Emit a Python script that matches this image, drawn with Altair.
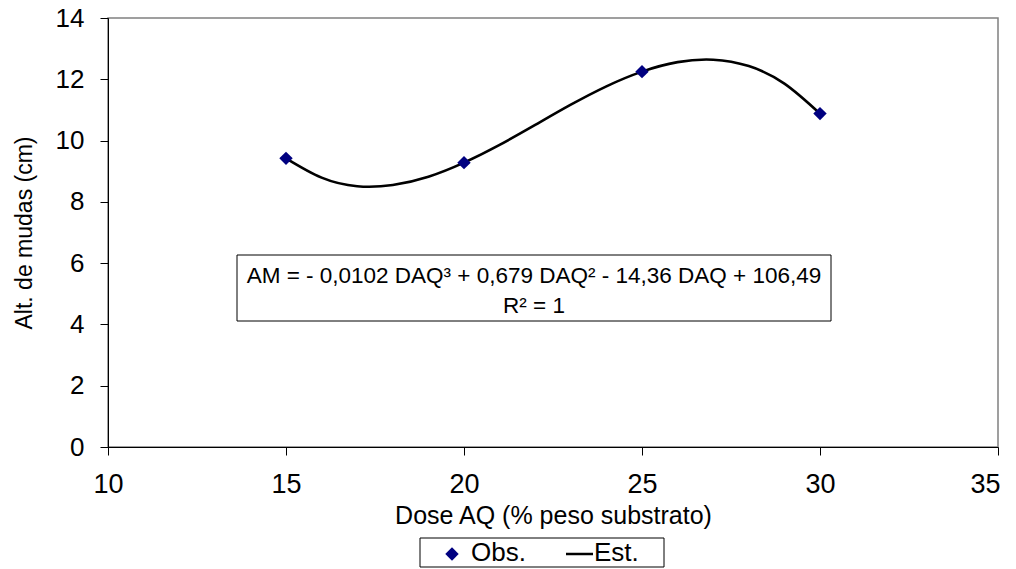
import altair as alt
import pandas as pd

# Observed values
obs_dose = [15, 20, 25, 30]
obs_height = [9.42, 9.28, 12.25, 10.88]

# Estimated curve
est_dose = [15, 16, 17, 18, 19, 20, 21, 22, 23, 24, 25, 26, 27, 28, 29, 30]
est_height = [9.42, 8.79, 8.51, 8.55, 8.82, 9.28, 9.86, 10.51, 11.17, 11.77,
              12.25, 12.56, 12.64, 12.43, 11.86, 10.88]

x_ticks = [10, 15, 20, 25, 30, 35]
y_ticks = [0, 2, 4, 6, 8, 10, 12, 14]

eq_line1 = "AM = - 0,0102 DAQ³ + 0,679 DAQ² - 14,36 DAQ + 106,49"
eq_line2 = "R² = 1"

FONT = "Liberation Sans"

obs_df = pd.DataFrame({"dose": obs_dose, "alt": obs_height})
est_df = pd.DataFrame({"dose": est_dose, "alt": est_height})
one = pd.DataFrame({"a": [0]})

xscale = alt.Scale(domain=[10, 35], nice=False, zero=False)
yscale = alt.Scale(domain=[0, 14], nice=False)

xaxis = alt.Axis(values=x_ticks, title="Dose AQ (% peso substrato)", grid=False,
                 labelFontSize=27, titleFontSize=25, labelPadding=16, titlePadding=6,
                 tickSize=8, domainColor="black", tickColor="black",
                 labelColor="black", titleColor="black", titleFontWeight="normal",
                 labelFont=FONT, titleFont=FONT, labelFlush=False,
                 labelAlign=alt.condition("datum.value == 35", alt.value("right"), alt.value("center")),
                 labelOffset=alt.condition("datum.value == 35", alt.value(2), alt.value(0)))
yaxis = alt.Axis(values=y_ticks, title="Alt. de mudas (cm)", grid=False,
                 labelFontSize=26, titleFontSize=23, labelPadding=16, titlePadding=19,
                 tickSize=8, domainColor="black", tickColor="black",
                 labelColor="black", titleColor="black", titleFontWeight="normal",
                 labelFont=FONT, titleFont=FONT)

curve = alt.Chart(est_df).mark_line(interpolate="natural", color="black", strokeWidth=2.6).encode(
    x=alt.X("dose:Q", scale=xscale, axis=xaxis),
    y=alt.Y("alt:Q", scale=yscale, axis=yaxis),
)

points = alt.Chart(obs_df).mark_point(shape="diamond", filled=True, color="#000080",
                                      size=180, opacity=1).encode(
    x=alt.X("dose:Q", scale=xscale),
    y=alt.Y("alt:Q", scale=yscale),
)

eq_box = alt.Chart(one).mark_rect(fill="white", stroke="black", strokeWidth=1).encode(
    x=alt.value(129), x2=alt.value(723), y=alt.value(237), y2=alt.value(303)
)
eq_t1 = alt.Chart(one).mark_text(text=eq_line1, font=FONT, fontSize=22.5, align="center",
                                 baseline="middle", color="black").encode(
    x=alt.value(426), y=alt.value(258)
)
eq_t2 = alt.Chart(one).mark_text(text=eq_line2, font=FONT, fontSize=22.5, align="center",
                                 baseline="middle", color="black").encode(
    x=alt.value(426), y=alt.value(288)
)

leg_box = alt.Chart(one).mark_rect(fill="white", stroke="black", strokeWidth=1).encode(
    x=alt.value(312), x2=alt.value(556), y=alt.value(520), y2=alt.value(549)
)
leg_pt = alt.Chart(one).mark_point(shape="diamond", filled=True, color="#000080",
                                   size=180, opacity=1).encode(
    x=alt.value(344), y=alt.value(536)
)
leg_t1 = alt.Chart(one).mark_text(text="Obs.", font=FONT, fontSize=26, align="left",
                                  baseline="middle", color="black").encode(
    x=alt.value(363), y=alt.value(535)
)
leg_line = alt.Chart(one).mark_rule(color="black", strokeWidth=2.5).encode(
    x=alt.value(458), x2=alt.value(485), y=alt.value(536)
)
leg_t2 = alt.Chart(one).mark_text(text="Est.", font=FONT, fontSize=26, align="left",
                                  baseline="middle", color="black").encode(
    x=alt.value(486), y=alt.value(535)
)

chart = alt.layer(curve, points, eq_box, eq_t1, eq_t2,
                  leg_box, leg_pt, leg_t1, leg_line, leg_t2).properties(
    width=890, height=429,
    autosize=alt.AutoSizeParams(type="none"),
    padding={"left": 100, "top": 10, "right": 2, "bottom": 121},
    background="white",
).configure_view(stroke="#808080", strokeWidth=1.5)

chart.save("out.html", embed_options={"renderer": "svg", "actions": False})
